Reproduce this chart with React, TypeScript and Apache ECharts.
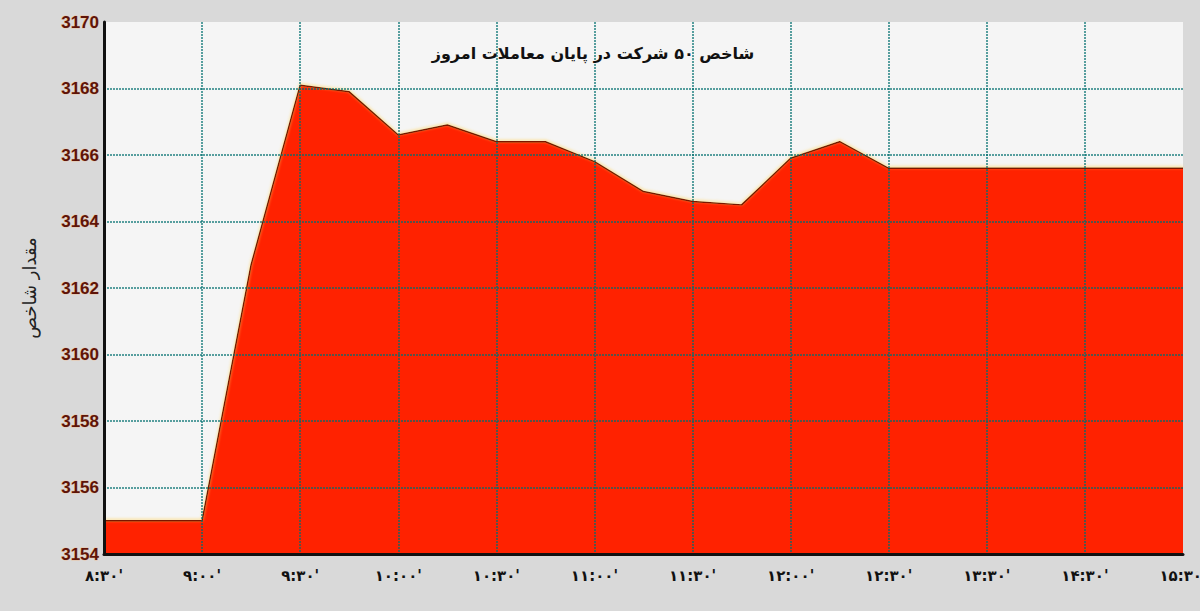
import React, { useEffect, useRef } from "react";
import * as echarts from "echarts";

// quarter-hour slots from 8:30, labels only on every second slot
const tickLabels = [
  "۸:۳۰'", "۹:۰۰'", "۹:۳۰'", "۱۰:۰۰'", "۱۰:۳۰'", "۱۱:۰۰'",
  "۱۱:۳۰'", "۱۲:۰۰'", "۱۲:۳۰'", "۱۳:۳۰'", "۱۴:۳۰'", "۱۵:۳۰'",
];
const indexValues = [
  3155.0, 3155.0, 3155.0, 3162.7, 3168.1, 3167.9, 3166.6, 3166.9,
  3166.4, 3166.4, 3165.8, 3164.9, 3164.6, 3164.5, 3165.9, 3166.4,
  3165.6, 3165.6, 3165.6, 3165.6, 3165.6, 3165.6, 3165.6,
];
const chartTitle = "شاخص ۵۰ شرکت در پایان معاملات امروز";
const yName = "مقدار شاخص";

const gridColor = "rgba(0, 110, 110, 0.65)";

const App = () => {
  const chartRef = useRef(null);

  useEffect(() => {
    const chartDom = chartRef.current;
    if (!chartDom) return;
    const myChart = echarts.init(chartDom, null, { renderer: "svg" });
    const option = {
      animation: false,
      backgroundColor: "#d9d9d9",
      title: {
        text: chartTitle,
        left: 588,
        top: 40,
        textAlign: "center",
        textStyle: {
          fontFamily: "DejaVu Sans",
          fontSize: 16,
          fontWeight: "bold",
          color: "#111",
        },
      },
      grid: {
        show: true,
        left: 104,
        right: 17,
        top: 22,
        bottom: 57,
        outerBoundsMode: "none",
        containLabel: false,
        backgroundColor: "#f5f5f5",
        borderWidth: 0,
      },
      xAxis: {
        type: "value",
        min: 0,
        max: (tickLabels.length - 1) * 2,
        interval: 2,
        z: 5,
        axisLine: { show: true, lineStyle: { color: "#111", width: 3 } },
        axisTick: { show: false },
        axisLabel: {
          margin: 14,
          fontFamily: "DejaVu Sans",
          fontSize: 15,
          fontWeight: "bold",
          color: "#111",
          formatter: (v: number) => tickLabels[v / 2] ?? "",
        },
        splitLine: {
          show: true,
          showMinLine: false,
          showMaxLine: false,
          lineStyle: { color: gridColor, width: 2, type: [2, 1] },
        },
      },
      yAxis: {
        type: "value",
        min: 3154,
        max: 3170,
        interval: 2,
        z: 5,
        name: yName,
        nameLocation: "middle",
        nameGap: 66,
        nameTextStyle: {
          fontFamily: "DejaVu Sans",
          fontSize: 18,
          color: "#222",
        },
        axisLine: { show: true, lineStyle: { color: "#111", width: 3 } },
        axisTick: { show: false },
        axisLabel: {
          margin: 5,
          fontFamily: "Liberation Sans",
          fontSize: 17,
          fontWeight: "bold",
          color: "#5e1408",
          textBorderColor: "rgba(255, 170, 100, 0.45)",
          textBorderWidth: 1,
          formatter: (v: number) => String(v),
        },
        splitLine: {
          show: true,
          showMinLine: false,
          showMaxLine: false,
          lineStyle: { color: gridColor, width: 2, type: [2, 1] },
        },
      },
      series: [
        {
          type: "line",
          data: indexValues.map((v, i) => [i, v]),
          symbol: "none",
          z: 2,
          lineStyle: {
            color: "#7a1500",
            width: 1.5,
            shadowColor: "rgba(255, 210, 90, 0.9)",
            shadowBlur: 3,
            shadowOffsetY: -1,
          },
          areaStyle: { color: "#ff2200", opacity: 1, origin: "start" },
        },
      ],
    };
    myChart.setOption(option);

    return () => {
      myChart.dispose();
    };
  }, []);

  return (
    <div
      ref={chartRef}
      style={{ position: "fixed", left: 0, top: 0, width: 1200, height: 611 }}
    ></div>
  );
};

export default App;
